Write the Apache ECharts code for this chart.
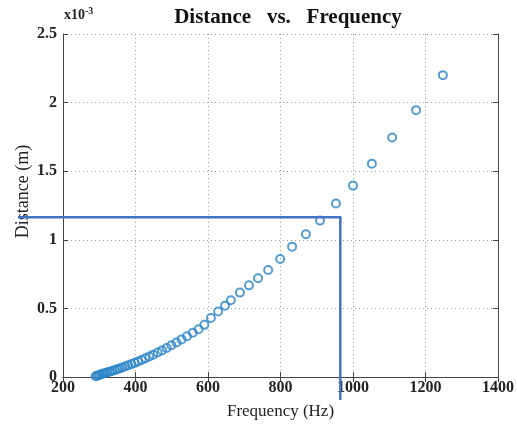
<!DOCTYPE html>
<html>
<head>
<meta charset="utf-8">
<script src="https://cdn.jsdelivr.net/npm/echarts@6/dist/echarts.min.js"></script>
<style>
html,body{margin:0;padding:0;background:#fff;}
#chart{width:517px;height:425px;}
</style>
</head>
<body>
<div id="chart"></div>
<script>
// Frequency (Hz)
var frequency = [290,294,298,302,307,312,317,323,329,335,342,349,356,364,372,380,389,398,407,417,427,438,449,461,473,486,499,513,527,542,558,574,590,608,628,647,663,688,713,738,766,799,832,870,909,953,1000,1052,1108,1174,1248];
// Distance (x10^-3 m)
var distance = [0.005,0.009,0.013,0.017,0.021,0.025,0.029,0.034,0.039,0.044,0.05,0.056,0.062,0.07,0.078,0.086,0.094,0.103,0.113,0.124,0.136,0.149,0.163,0.178,0.194,0.212,0.231,0.252,0.274,0.297,0.322,0.348,0.38,0.43,0.478,0.52,0.56,0.615,0.668,0.72,0.78,0.86,0.95,1.04,1.14,1.265,1.395,1.555,1.745,1.945,2.2];
var xTicks = [200,400,600,800,1000,1200,1400];
var yTicks = [0,0.5,1,1.5,2,2.5];
// annotation point (blue guide lines)
var annoFreq = [965];
var annoDist = [1.165];

var serif = '"Liberation Serif","DejaVu Serif",serif';
var chart = echarts.init(document.getElementById('chart'), null, {renderer:'canvas'});
var pts = frequency.map(function(f,i){return [f, distance[i]];});

function plain(v){ return String(v); }

var gridLine = {show:true, lineStyle:{color:'#9a9a9a', type:[1,3], width:1}};
var axisLine = {show:true, lineStyle:{color:'#444', width:1}};

chart.setOption({
  animation:false,
  title:{
    text:'Distance   vs.   Frequency',
    left:283, top:2, textAlign:'center',
    textStyle:{fontFamily:serif, fontSize:21, fontWeight:'bold', color:'#111'}
  },
  grid:{left:63, right:18, top:34, bottom:47, containLabel:false},
  xAxis:[{
    type:'value', min:xTicks[0], max:xTicks[xTicks.length-1], interval:200,
    name:'Frequency (Hz)', nameLocation:'middle', nameGap:26,
    nameTextStyle:{fontFamily:serif, fontSize:17, color:'#222'},
    axisLine:axisLine,
    axisTick:{show:true, inside:true, length:5, lineStyle:{color:'#444'}},
    axisLabel:{fontFamily:serif, fontSize:16, fontWeight:'bold', color:'#222', margin:3, formatter:plain},
    splitLine:gridLine
  },{
    type:'value', position:'top', min:xTicks[0], max:xTicks[xTicks.length-1], interval:200,
    axisLine:axisLine,
    axisTick:{show:true, inside:true, length:5, lineStyle:{color:'#444'}},
    axisLabel:{show:false}, splitLine:{show:false}
  }],
  yAxis:[{
    type:'value', min:yTicks[0], max:yTicks[yTicks.length-1], interval:0.5,
    name:'Distance (m)', nameLocation:'middle', nameGap:31, nameRotate:90, nameMoveOverlap:false,
    nameTextStyle:{fontFamily:serif, fontSize:18, color:'#222', padding:[0,0,0,28]},
    axisLine:axisLine,
    axisTick:{show:true, inside:true, length:5, lineStyle:{color:'#444'}},
    axisLabel:{fontFamily:serif, fontSize:16, fontWeight:'bold', color:'#222', margin:6, formatter:plain},
    splitLine:gridLine
  },{
    type:'value', position:'right', min:yTicks[0], max:yTicks[yTicks.length-1], interval:0.5,
    axisLine:axisLine,
    axisTick:{show:true, inside:true, length:5, lineStyle:{color:'#444'}},
    axisLabel:{show:false}, splitLine:{show:false}
  }],
  series:[{
    type:'scatter', data:pts, xAxisIndex:0, yAxisIndex:0,
    symbol:'circle', symbolSize:8,
    itemStyle:{color:'rgba(255,255,255,0)', borderColor:'#2b84c6', borderWidth:2},
    z:3
  }]
});

function drawAnno(){
  var p = chart.convertToPixel({xAxisIndex:0, yAxisIndex:0}, [annoFreq[0], annoDist[0]]);
  var origin = chart.convertToPixel({xAxisIndex:0, yAxisIndex:0}, [xTicks[0], yTicks[0]]);
  var x0 = origin[0] - 45, yEnd = origin[1] + 23;
  chart.setOption({graphic:[
    {type:'line', shape:{x1:x0, y1:p[1], x2:p[0]+1, y2:p[1]}, style:{stroke:'#4472c4', lineWidth:2.5}, z:10},
    {type:'line', shape:{x1:p[0], y1:p[1], x2:p[0], y2:yEnd}, style:{stroke:'#4472c4', lineWidth:2.5}, z:10},
    {type:'text', left:origin[0]+1, top:6, style:{
      text:'{b|x10}{s|-3}',
      rich:{b:{fontFamily:serif, fontSize:14, fontWeight:'bold', fill:'#222'}, s:{fontFamily:serif, fontSize:10, fontWeight:'bold', fill:'#222', verticalAlign:'top', padding:[0,0,9,0]}}
    }}
  ]});
}
drawAnno();
</script>
</body>
</html>
